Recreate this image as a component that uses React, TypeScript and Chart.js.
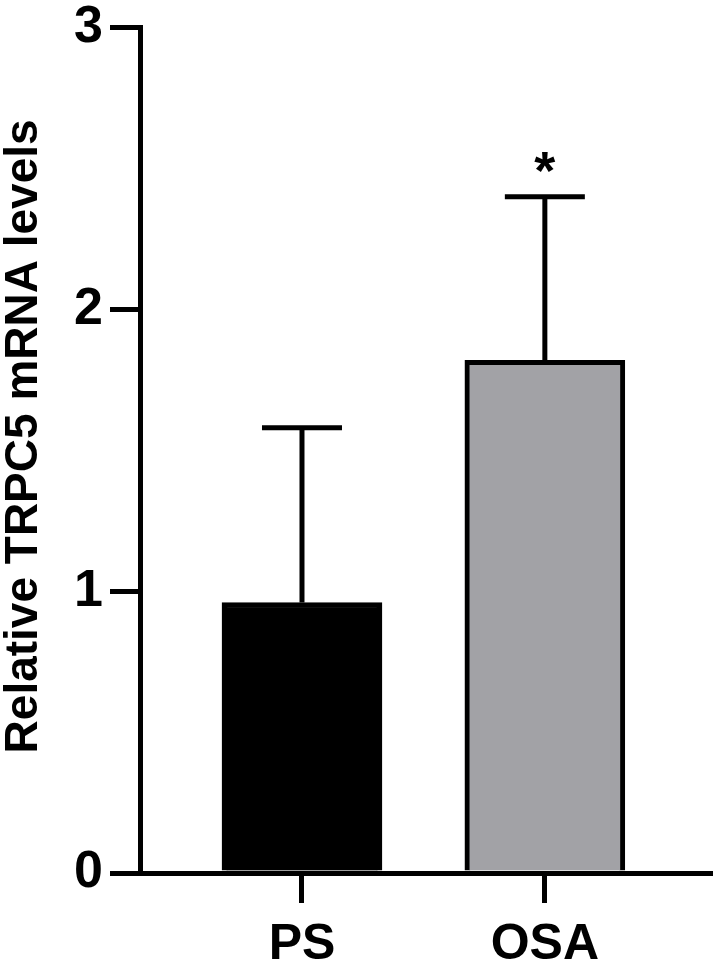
import React, { useEffect, useRef } from "react";
import { Chart, registerables } from "chart.js";

Chart.register(...registerables);

const categories = ["PS", "OSA"];
const means = [0.96, 1.82];
const errors = [0.62, 0.58];
const significance = ["", "*"];
const barColors = ["#000000", "#a2a2a6"];
const yTicks = [0, 1, 2, 3];
const yTitle = "Relative TRPC5 mRNA levels";

const FONT = "'Liberation Sans', Arial, Helvetica, sans-serif";

const errorBarPlugin = {
  id: "errorBars",
  afterDatasetsDraw(chart: any) {
    const ctx = chart.ctx;
    const meta = chart.getDatasetMeta(0);
    const y = chart.scales.y;
    ctx.save();
    ctx.strokeStyle = "#000";
    ctx.fillStyle = "#000";
    ctx.lineWidth = 5;
    ctx.lineCap = "butt";
    meta.data.forEach((el: any, i: number) => {
      const x = el.x;
      const yTop = y.getPixelForValue(means[i]);
      const yErr = y.getPixelForValue(means[i] + errors[i]);
      ctx.beginPath();
      ctx.moveTo(x, yTop);
      ctx.lineTo(x, yErr);
      ctx.moveTo(x - 40, yErr);
      ctx.lineTo(x + 40, yErr);
      ctx.stroke();
      if (significance[i]) {
        ctx.font = `bold 54px ${FONT}`;
        ctx.textAlign = "center";
        ctx.textBaseline = "alphabetic";
        ctx.fillText(significance[i], x, yErr - 8);
      }
    });
    ctx.restore();
  },
  afterDraw(chart: any) {
    const ctx = chart.ctx;
    const area = chart.chartArea;
    ctx.save();
    ctx.fillStyle = "#000";
    ctx.font = `bold 46px ${FONT}`;
    ctx.textAlign = "center";
    ctx.textBaseline = "alphabetic";
    ctx.translate(37, (area.top + area.bottom) / 2 - 14);
    ctx.rotate(-Math.PI / 2);
    ctx.fillText(yTitle, 0, 0);
    ctx.restore();
  },
};

export default function App() {
  const ref = useRef<HTMLCanvasElement | null>(null);
  useEffect(() => {
    if (!ref.current) return;
    const chart = new Chart(ref.current, {
      type: "bar",
      data: {
        datasets: [
          {
            data: means.map((m, i) => ({ x: i + 1, y: m })),
            backgroundColor: barColors,
            borderColor: "#000",
            borderWidth: 5,
            borderSkipped: "start",
            barThickness: 160,
            grouped: false,
          },
        ],
      },
      options: {
        animation: false,
        responsive: false,
        maintainAspectRatio: false,
        layout: { padding: { left: 0, right: 3, top: 23, bottom: 0 } },
        plugins: {
          legend: { display: false },
          tooltip: { enabled: false },
          title: { display: false },
        },
        scales: {
          x: {
            type: "linear",
            min: 0.333,
            max: 2.68,
            offset: false,
            afterFit: (s: any) => {
              s.height = 92;
            },
            afterBuildTicks: (s: any) => {
              s.ticks = categories.map((_, i) => ({ value: i + 1 }));
            },
            grid: {
              offset: false,
              drawOnChartArea: false,
              drawTicks: true,
              tickLength: 30,
              tickWidth: 5,
              tickColor: "#000",
              color: "#000",
              lineWidth: 5,
            },
            border: { display: true, color: "#000", width: 5 },
            ticks: {
              autoSkip: false,
              maxRotation: 0,
              padding: 17,
              color: "#000",
              font: { family: FONT, size: 50, weight: "bold", lineHeight: 1 },
              callback: (v: any) => categories[Math.round(Number(v)) - 1] ?? "",
            },
          },
          y: {
            min: 0,
            max: 3,
            afterFit: (s: any) => {
              s.width = 140;
            },
            afterBuildTicks: (s: any) => {
              s.ticks = yTicks.map((v) => ({ value: v }));
            },
            grid: {
              drawOnChartArea: false,
              drawTicks: true,
              tickLength: 30,
              tickWidth: 5,
              tickColor: "#000",
              color: "#000",
              lineWidth: 5,
            },
            border: { display: true, color: "#000", width: 5 },
            ticks: {
              padding: 7,
              color: "#000",
              font: { family: FONT, size: 52, weight: "bold", lineHeight: 0.8 },
              callback: (v: any) => String(v),
            },
          },
        },
      },
      plugins: [errorBarPlugin],
    });
    return () => chart.destroy();
  }, []);
  return (
    <div style={{ position: "absolute", left: 0, top: 0, width: 713, height: 965, background: "#fff" }}>
      <canvas ref={ref} width={713} height={965} style={{ display: "block" }} />
    </div>
  );
}
